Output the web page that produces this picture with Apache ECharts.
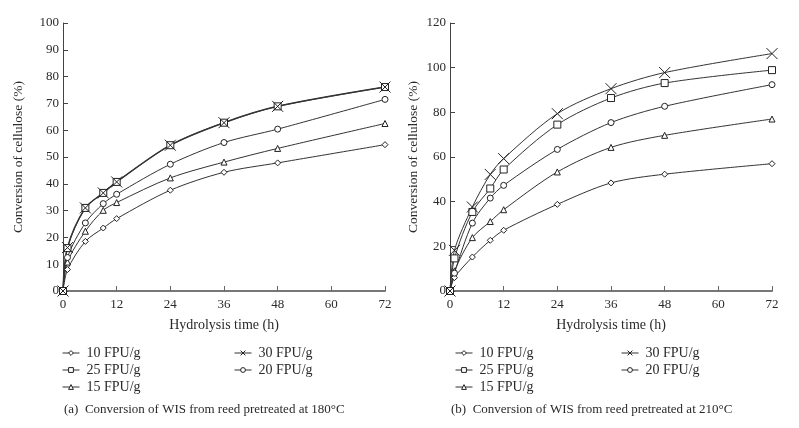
<!DOCTYPE html>
<html><head><meta charset="utf-8">
<script src="https://cdn.jsdelivr.net/npm/echarts@6/dist/echarts.min.js"></script>
<style>html,body{margin:0;padding:0;background:#fff}#c{width:799px;height:428px}</style>
</head><body><div id="c"></div>
<script>
const times = [0, 1, 5, 9, 12, 24, 36, 48, 72];
const names = ['10 FPU/g', '15 FPU/g', '20 FPU/g', '25 FPU/g', '30 FPU/g'];
// (a) 180°C
const c10a = [0, 8, 18.5, 23.5, 27, 37.6, 44.3, 47.8, 54.6];
const c15a = [0, 10.8, 22.3, 30.1, 33, 42.2, 48.1, 53.2, 62.5];
const c20a = [0, 12.5, 25.4, 32.6, 36.1, 47.3, 55.4, 60.4, 71.5];
const c25a = [0, 16, 31, 36.6, 40.7, 54.4, 62.8, 68.9, 76.1];
const c30a = [0, 16.2, 31, 36.6, 40.7, 54.4, 62.8, 68.9, 76.1];
// (b) 210°C
const c10b = [0, 6, 15.2, 22.7, 27.2, 38.8, 48.4, 52.3, 57];
const c15b = [0, 9, 23.9, 31.1, 36.4, 53.3, 64.3, 69.7, 77];
const c20b = [0, 8, 30.4, 41.6, 47.3, 63.4, 75.4, 82.7, 92.4];
const c25b = [0, 14.6, 35.4, 45.9, 54.4, 74.5, 86.4, 93.1, 98.9];
const c30b = [0, 18.2, 37.6, 52.2, 59.3, 79.4, 90.6, 97.8, 106.3];
const xTicks = [0, 12, 24, 36, 48, 60, 72];
const captionA = '(a)  Conversion of WIS from reed pretreated at 180°C';
const captionB = '(b)  Conversion of WIS from reed pretreated at 210°C';
const xName = 'Hydrolysis time (h)';
const yName = 'Conversion of cellulose (%)';

const FONT = 'Liberation Serif';
const TXT = '#2a2a2a';
const LINE = '#333';
const symbols = {
  '10 FPU/g': {symbol: 'diamond', size: 6},
  '15 FPU/g': {symbol: 'triangle', size: 6},
  '20 FPU/g': {symbol: 'circle', size: 6},
  '25 FPU/g': {symbol: 'rect', size: 7},
  '30 FPU/g': {symbol: 'path://M0,0L10,10M10,0L0,10', size: 11}
};
function mk(name, ys, idx) {
  return {
    name: name, type: 'line', xAxisIndex: idx, yAxisIndex: idx,
    data: times.map((t, i) => [t, ys[i]]),
    smooth: 0.3,
    symbol: symbols[name].symbol, symbolSize: symbols[name].size,
    showAllSymbol: true,
    lineStyle: {color: LINE, width: (idx === 0 && name === '30 FPU/g') ? 1.5 : 1},
    itemStyle: {color: '#fff', borderColor: '#222', borderWidth: 1},
    emphasis: {disabled: true},
    animation: false
  };
}
const setA = [c10a, c15a, c20a, c25a, c30a];
const setB = [c10b, c15b, c20b, c25b, c30b];
const series = [];
names.forEach((n, i) => series.push(mk(n, setA[i], 0)));
names.forEach((n, i) => series.push(mk(n, setB[i], 1)));

function xAx(gi) {
  return {
    type: 'value', gridIndex: gi, min: 0, max: 72, interval: 12,
    name: xName, nameLocation: 'middle', nameGap: 27,
    nameTextStyle: {fontFamily: FONT, fontSize: 14, color: TXT},
    axisLine: {lineStyle: {color: '#777', width: 2}},
    axisTick: {inside: true, length: 5, lineStyle: {color: '#666'}},
    axisLabel: {fontFamily: FONT, fontSize: 13, color: TXT, margin: 7},
    splitLine: {show: false}
  };
}
function yAx(gi, max, interval, gap) {
  return {
    type: 'value', gridIndex: gi, min: 0, max: max, interval: interval,
    name: yName, nameLocation: 'middle', nameGap: gap,
    nameTextStyle: {fontFamily: FONT, fontSize: 13.5, color: TXT},
    axisLine: {show: true, lineStyle: {color: '#444', width: 1}},
    axisTick: {show: true, inside: true, length: 5, lineStyle: {color: '#444'}},
    axisLabel: {fontFamily: FONT, fontSize: 13, color: TXT, margin: 4},
    splitLine: {show: false}
  };
}
function legend(left, data) {
  return {
    left: left, top: 341, orient: 'vertical', itemGap: 3,
    itemWidth: 17, itemHeight: 6, data: data,
    itemStyle: {borderWidth: 1, color: '#fff', borderColor: '#222'},
    lineStyle: {width: 1, color: LINE},
    textStyle: {fontFamily: FONT, fontSize: 14, color: TXT, padding: [0, 0, 0, 2]},
    selectedMode: false
  };
}
const chart = echarts.init(document.getElementById('c'), null, {renderer: 'canvas'});
chart.setOption({
  backgroundColor: '#fff',
  animation: false,
  title: [
    {text: captionA, left: 59, top: 398, textStyle: {fontFamily: FONT, fontSize: 13, fontWeight: 'normal', color: TXT}},
    {text: captionB, left: 446, top: 398, textStyle: {fontFamily: FONT, fontSize: 13, fontWeight: 'normal', color: TXT}}
  ],
  grid: [
    {left: 63, top: 23, width: 322, height: 268, containLabel: false},
    {left: 450, top: 23, width: 322, height: 268, containLabel: false}
  ],
  xAxis: [xAx(0), xAx(1)],
  yAxis: [yAx(0, 100, 10, 38), yAx(1, 120, 20, 30)],
  legend: [
    legend(57, ['10 FPU/g', '25 FPU/g', '15 FPU/g']),
    legend(229, ['30 FPU/g', '20 FPU/g']),
    legend(450, ['10 FPU/g', '25 FPU/g', '15 FPU/g']),
    legend(616, ['30 FPU/g', '20 FPU/g'])
  ],
  series: series
});
</script></body></html>
